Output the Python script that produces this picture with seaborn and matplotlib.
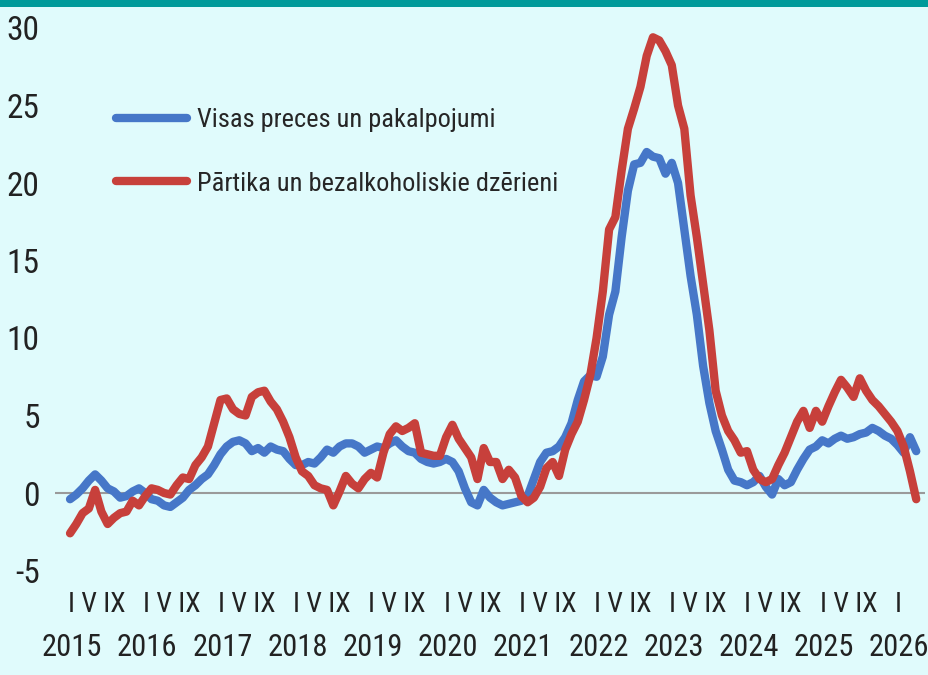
import pandas as pd
import seaborn as sns
import numpy as np
import matplotlib.pyplot as plt
from matplotlib.patches import Rectangle

# monthly data, Jan 2015 .. Apr 2026 (annual % change)
visas = [-0.4, -0.1, 0.3, 0.8, 1.2, 0.8, 0.3, 0.1, -0.3, -0.2, 0.1, 0.3,
         0.0, -0.4, -0.5, -0.8, -0.9, -0.6, -0.3, 0.2, 0.5, 0.9, 1.2, 1.8,
         2.5, 3.0, 3.3, 3.4, 3.2, 2.7, 2.9, 2.6, 3.0, 2.8, 2.7, 2.2,
         1.8, 1.8, 2.0, 1.9, 2.3, 2.8, 2.6, 3.0, 3.2, 3.2, 3.0, 2.6,
         2.8, 3.0, 2.9, 3.2, 3.4, 3.0, 2.7, 2.6, 2.2, 2.0, 1.9, 2.0,
         2.2, 2.0, 1.4, 0.3, -0.6, -0.8, 0.2, -0.3, -0.6, -0.8, -0.7, -0.6,
         -0.5, -0.2, 0.9, 2.0, 2.6, 2.7, 3.0, 3.6, 4.5, 6.0, 7.2, 7.6,
         7.5, 8.8, 11.5, 13.0, 16.5, 19.5, 21.2, 21.3, 22.0, 21.7, 21.6, 20.6,
         21.3, 20.0, 17.0, 14.0, 11.5, 8.2, 5.8, 4.0, 2.8, 1.5, 0.8, 0.7,
         0.5, 0.7, 1.1, 0.4, -0.1, 0.9, 0.5, 0.7, 1.5, 2.2, 2.8, 3.0,
         3.4, 3.2, 3.5, 3.7, 3.5, 3.6, 3.8, 3.9, 4.2, 4.0, 3.7, 3.5,
         3.1, 2.6, 3.6, 2.7]
partika = [-2.6, -2.0, -1.3, -1.0, 0.2, -1.2, -2.0, -1.6, -1.3, -1.2, -0.5, -0.8,
           -0.2, 0.3, 0.2, 0.0, -0.1, 0.5, 1.0, 0.9, 1.8, 2.3, 3.0, 4.5,
           6.0, 6.1, 5.4, 5.1, 5.0, 6.2, 6.5, 6.6, 5.9, 5.4, 4.6, 3.6,
           2.3, 1.4, 1.1, 0.5, 0.3, 0.2, -0.8, 0.1, 1.1, 0.6, 0.3, 0.9,
           1.3, 1.0, 2.6, 3.8, 4.3, 4.0, 4.2, 4.5, 2.6, 2.5, 2.4, 2.4,
           3.6, 4.4, 3.5, 2.9, 2.3, 0.9, 2.9, 2.0, 2.0, 0.9, 1.5, 1.0,
           -0.2, -0.6, -0.3, 0.4, 1.6, 2.0, 1.1, 2.8, 3.8, 4.6, 6.0, 7.6,
           10.0, 13.0, 17.0, 17.8, 20.8, 23.5, 24.8, 26.2, 28.2, 29.4, 29.2, 28.5,
           27.6, 25.0, 23.5, 19.2, 16.5, 13.5, 10.5, 6.6, 5.0, 4.0, 3.4, 2.6,
           2.7, 1.5, 0.9, 0.7, 0.9, 1.8, 2.6, 3.6, 4.6, 5.3, 4.2, 5.3,
           4.6, 5.6, 6.5, 7.3, 6.8, 6.2, 7.4, 6.6, 6.0, 5.6, 5.1, 4.6,
           4.0, 3.0, 1.4, -0.4]
series_names = ['Visas preces un pakalpojumi', 'Pārtika un bezalkoholiskie dzērieni']
series_colors = ['#4677C8', '#C7403B']
years = ['2015', '2016', '2017', '2018', '2019', '2020', '2021', '2022',
         '2023', '2024', '2025', '2026']
month_labels = ['I V IX'] * 11 + ['I']

n = len(visas)
t = np.arange(n)
df = pd.DataFrame({'t': np.concatenate([t, t]),
                   'value': visas + partika,
                   'series': [series_names[0]] * n + [series_names[1]] * n})

sns.set_style('white')
plt.rcParams['font.family'] = ['Liberation Sans Narrow', 'Roboto Condensed',
                               'DejaVu Sans Condensed', 'Liberation Sans', 'DejaVu Sans']

bg = '#E0FBFC'
fig = plt.figure(figsize=(9.29, 6.75), dpi=100, facecolor=bg)
ax = fig.add_axes([55 / 929, 1 - 570.5 / 675, 870 / 929, 542.5 / 675])
ax.set_facecolor(bg)

ax.axhline(0, color='#9a9a9a', lw=1.5, zorder=1)
sns.lineplot(data=df, x='t', y='value', hue='series', palette=series_colors,
             linewidth=6, ax=ax, legend=True, zorder=3)

ax.set_xlim(-2.4, 136.4)
ax.set_ylim(-5, 30)
ax.set_yticks([-5, 0, 5, 10, 15, 20, 25, 30])
ax.set_yticklabels(['-5', '0', '5', '10', '15', '20', '25', '30'])
ax.tick_params(axis='y', length=0, pad=11, labelsize=24, labelcolor='#222222')

# month row and year row
year_pos = np.arange(len(years)) * 12
ax.set_xticks(year_pos - 0.4)
ax.set_xticklabels(month_labels, ha='left')
ax.set_xticks(year_pos + 0.3, minor=True)
ax.set_xticklabels(years, minor=True)
ax.tick_params(axis='x', which='major', length=0, pad=15, labelsize=20, labelcolor='#222222')
ax.tick_params(axis='x', which='minor', length=0, pad=45, labelsize=22, labelcolor='#222222')
ax.set_xlabel('')
ax.set_ylabel('')
for s in ax.spines.values():
    s.set_visible(False)

leg = ax.legend(loc='upper left', bbox_to_anchor=(0.0552, 0.877), frameon=False,
                fontsize=19, handlelength=2.7, handletextpad=0.38,
                labelspacing=1.5, borderpad=0, title=None)
for line in leg.get_lines():
    line.set_linewidth(6)

# teal band along the top
fig.add_artist(Rectangle((0, 1 - 7 / 675), 1, 7 / 675, transform=fig.transFigure,
                         facecolor='#009A9A', edgecolor='none'))

plt.savefig('out.png', dpi=100, facecolor=bg)
